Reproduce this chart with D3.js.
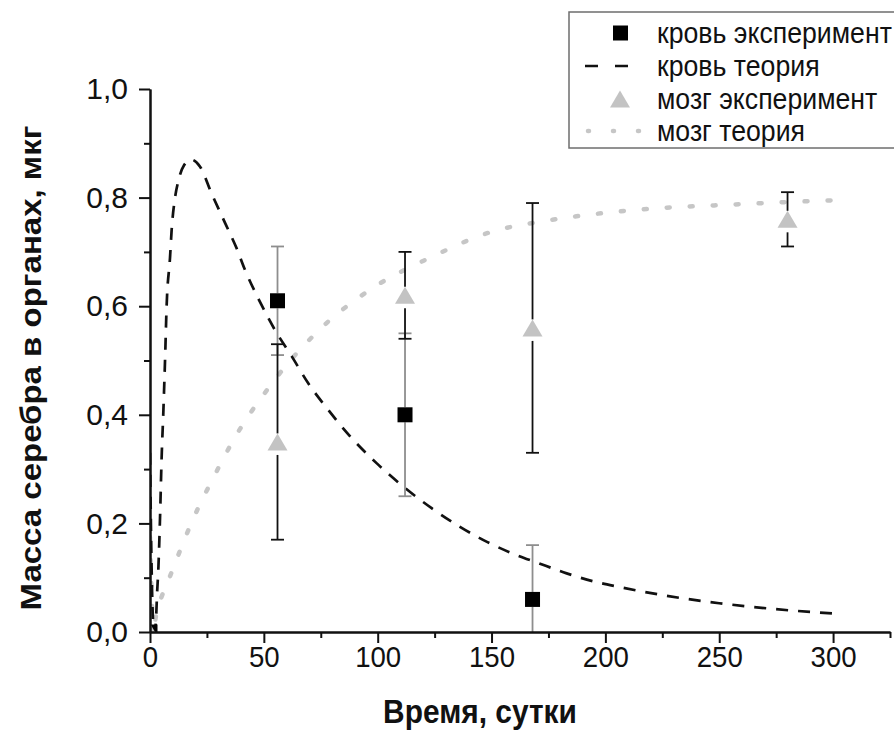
<!DOCTYPE html>
<html><head><meta charset="utf-8">
<script src="https://cdn.jsdelivr.net/npm/d3@7"></script>
<style>body{margin:0;background:#fff}svg{display:block}text{font-family:"Liberation Sans",Arial,sans-serif}</style>
</head><body>
<svg id="chart" width="894" height="745"></svg>
<script>
// ---- data ----
const bloodExpT   = [0, 56, 112, 168];
const bloodExpV   = [0, 0.61, 0.40, 0.06];
const bloodExpErr = [0, 0.10, 0.15, 0.10];

const brainExpT   = [0, 56, 112, 168, 280];
const brainExpV   = [0, 0.35, 0.62, 0.56, 0.76];
const brainExpErr = [0, 0.18, 0.08, 0.23, 0.05];

const bloodTheoryT = [0, 0.5, 1.0, 1.5, 2.0, 2.6, 3.1, 3.7, 4.4, 5.1, 5.9, 6.6, 7.3, 8.8, 9.5, 11, 12.4, 15, 18, 22, 27, 33, 38, 41.7, 48.3, 54.9, 62.2, 69.5, 78.3, 88.6, 99.5, 111.2, 123.7, 148, 159, 170.5, 183, 195, 206, 225, 250, 275, 300];
const bloodTheoryV = [0.33, 0.17, 0.06, 0.01, 0.0, 0.02, 0.07, 0.12, 0.21, 0.32, 0.41, 0.50, 0.60, 0.69, 0.74, 0.80, 0.83, 0.86, 0.87, 0.857, 0.808, 0.753, 0.707, 0.667, 0.608, 0.556, 0.508, 0.458, 0.409, 0.357, 0.311, 0.268, 0.228, 0.166, 0.145, 0.127, 0.108, 0.093, 0.083, 0.068, 0.053, 0.042, 0.034];

const brainTheoryT = [0, 0.5, 1.0, 1.5, 2.2, 3.0, 5.1, 9.2, 13.2, 17.3, 22, 27.1, 32.5, 38.1, 44.7, 52, 60, 69.5, 79.4, 89.7, 99.8, 110.5, 120.8, 150, 175, 200, 225, 250, 275, 300];
const brainTheoryV = [0.175, 0.10, 0.04, 0.015, 0.02, 0.04, 0.065, 0.107, 0.15, 0.192, 0.236, 0.278, 0.322, 0.364, 0.407, 0.449, 0.492, 0.536, 0.576, 0.61, 0.639, 0.664, 0.685, 0.737, 0.758, 0.772, 0.781, 0.786, 0.791, 0.795];

const xMajorTicks = [0, 50, 100, 150, 200, 250, 300];
const xMinorTicks = [25, 75, 125, 175, 225, 275, 325];
const yMajorTicks = [0, 0.2, 0.4, 0.6, 0.8, 1.0];
const yMinorTicks = [0.1, 0.3, 0.5, 0.7, 0.9];
const legendLabels = ["кровь эксперимент", "кровь теория", "мозг эксперимент", "мозг теория"];
const xTitle = "Время, сутки";
const yTitle = "Масса серебра в органах, мкг";

// ---- drawing ----
const SX = 0.92; // horizontal squeeze of the text in the original picture
const svg = d3.select("#chart");
const x = d3.scaleLinear().domain([0, 325]).range([150, 890]);
const y = d3.scaleLinear().domain([0, 1.0]).range([632, 89]);
const fmt = v => d3.format(".1f")(v).replace(".", ",");

const DARK = "#111", GREY_TRI = "#c3c3c3", GREY_ERR = "#8e8e8e", GREY_DOT = "#c6c6c6";

svg.append("defs").append("clipPath").attr("id", "clip")
  .append("rect").attr("x", 150).attr("y", 60).attr("width", 760).attr("height", 572);

const plot = svg.append("g").attr("clip-path", "url(#clip)");

const line = d3.line().x(d => x(d[0])).y(d => y(d[1])).curve(d3.curveMonotoneX);
const bloodT = bloodTheoryT.map((t, i) => [t, bloodTheoryV[i]]);
const brainT = brainTheoryT.map((t, i) => [t, brainTheoryV[i]]);

function errorBars(ts, vs, es, color, halfTop, halfBot) {
  ts.forEach((t, i) => {
    if (!es[i]) return;
    const cx = x(t), cy = y(vs[i]);
    const top = y(vs[i] + es[i]), bot = y(Math.max(0, vs[i] - es[i]));
    const g = plot.append("g").attr("stroke", color).attr("stroke-width", 1.8);
    g.append("line").attr("x1", cx).attr("x2", cx).attr("y1", top).attr("y2", cy - halfTop);
    g.append("line").attr("x1", cx).attr("x2", cx).attr("y1", cy + halfBot).attr("y2", bot);
    g.append("line").attr("x1", cx - 6.5).attr("x2", cx + 6.5).attr("y1", top).attr("y2", top);
    if (vs[i] - es[i] >= 0)
      g.append("line").attr("x1", cx - 6.5).attr("x2", cx + 6.5).attr("y1", bot).attr("y2", bot);
  });
}

// theory lines
plot.append("path").datum(brainT).attr("d", line).attr("fill", "none")
  .attr("stroke", GREY_DOT).attr("stroke-width", 4.5).attr("stroke-linecap", "round")
  .attr("stroke-dasharray", "3 20");
plot.append("path").datum(bloodT).attr("d", line).attr("fill", "none")
  .attr("stroke", DARK).attr("stroke-width", 2.7).attr("stroke-dasharray", "12 10");

// blood
errorBars(bloodExpT, bloodExpV, bloodExpErr, GREY_ERR, 7.5, 7.5);
bloodExpT.forEach((t, i) => {
  plot.append("rect").attr("x", x(t) - 7.5).attr("y", y(bloodExpV[i]) - 7.5)
    .attr("width", 15).attr("height", 15).attr("fill", "#000");
});
// brain
errorBars(brainExpT, brainExpV, brainExpErr, DARK, 8.5, 13);
function triPath(cx, cy) {
  return `M${cx},${cy - 8.5}L${cx + 10},${cy + 8.5}L${cx - 10},${cy + 8.5}Z`;
}
brainExpT.forEach((t, i) => {
  plot.append("path").attr("d", triPath(x(t), y(brainExpV[i]))).attr("fill", GREY_TRI);
});

// axes
function styleAxis(g) {
  g.selectAll("path.domain").attr("stroke", DARK).attr("stroke-width", 2);
  g.selectAll(".tick line").attr("stroke", DARK).attr("stroke-width", 2);
  g.selectAll("text").attr("font-size", 30).attr("fill", DARK)
    .style("font-family", '"Liberation Sans", Arial, sans-serif');
}
svg.append("g").attr("transform", "translate(0,632)")
  .call(d3.axisBottom(x).tickValues(xMinorTicks).tickSize(6).tickSizeOuter(0).tickFormat(""))
  .call(styleAxis);
svg.append("g").attr("transform", "translate(0,632)")
  .call(d3.axisBottom(x).tickValues(xMajorTicks).tickSize(11).tickSizeOuter(0).tickPadding(3).tickFormat(d3.format("d")))
  .call(styleAxis)
  .selectAll(".tick text").attr("transform", `scale(${SX},1)`);
svg.append("g").attr("transform", "translate(150,0)")
  .call(d3.axisLeft(y).tickValues(yMinorTicks).tickSize(6).tickSizeOuter(0).tickFormat(""))
  .call(styleAxis);
svg.append("g").attr("transform", "translate(150,0)")
  .call(d3.axisLeft(y).tickValues(yMajorTicks).tickSize(11).tickSizeOuter(0).tickPadding(11).tickFormat(fmt))
  .call(styleAxis);

// titles
svg.append("text").attr("transform", `translate(480,723) scale(${SX},1)`).attr("text-anchor", "middle")
  .attr("font-size", 32.5).attr("font-weight", "bold").attr("fill", DARK).text(xTitle);
svg.append("text").attr("transform", `translate(41,368) scale(${SX},1) rotate(-90)`).attr("text-anchor", "middle")
  .attr("font-size", 33).attr("font-weight", "bold").attr("fill", DARK).text(yTitle);

// legend
const lg = svg.append("g");
lg.append("rect").attr("x", 569).attr("y", 12).attr("width", 340).attr("height", 136)
  .attr("fill", "#fff").attr("stroke", "#6e6e6e").attr("stroke-width", 1.5);
const rowY = [33, 66, 99, 131];
legendLabels.forEach((lab, i) => {
  lg.append("text").attr("transform", `translate(657,${rowY[i]}) scale(${SX},1)`).attr("dy", "0.35em")
    .attr("font-size", 29).attr("fill", DARK).text(lab);
});
lg.append("rect").attr("x", 613).attr("y", rowY[0] - 7.5).attr("width", 15).attr("height", 15).attr("fill", "#000");
lg.append("line").attr("x1", 585).attr("x2", 628).attr("y1", rowY[1]).attr("y2", rowY[1])
  .attr("stroke", DARK).attr("stroke-width", 2.7).attr("stroke-dasharray", "13 17");
lg.append("path").attr("d", triPath(620, rowY[2])).attr("fill", GREY_TRI);
lg.append("line").attr("x1", 588).attr("x2", 640).attr("y1", rowY[3]).attr("y2", rowY[3])
  .attr("stroke", GREY_DOT).attr("stroke-width", 4.5).attr("stroke-linecap", "round").attr("stroke-dasharray", "1 24");
</script>
</body></html>
